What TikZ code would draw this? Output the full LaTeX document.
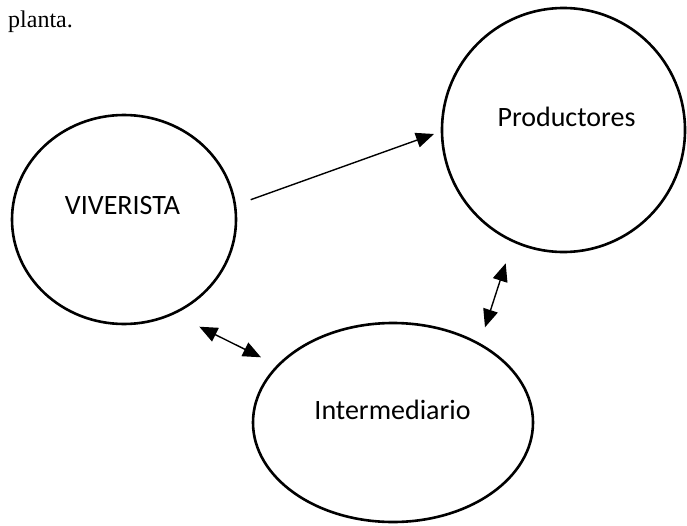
\documentclass[tikz,border=0pt]{standalone}
\usepackage{fontspec}
\setmainfont{Liberation Serif}
\newfontfamily\labelfont{Carlito}
\usetikzlibrary{shapes.geometric,arrows.meta}
\begin{document}
\begin{tikzpicture}[x=1pt,y=-1pt,
  actor/.style={draw,ellipse,line width=2.6pt,inner sep=0pt},
  actorname/.style={font=\labelfont\fontsize{28}{32}\selectfont,inner sep=0pt},
  flow/.style={line width=1.4pt,-{Triangle[length=18pt,width=15pt]}},
  twoway/.style={line width=1.4pt,{Triangle[length=18pt,width=15pt]}-{Triangle[length=18pt,width=15pt]}}]
  \useasboundingbox (0,0) rectangle (687,525);

  % lead-in text
  \node[anchor=base west,inner sep=0pt,font=\fontsize{24}{28}\selectfont] (lead) at (8,27) {planta.};

  % the three actors
  \node[actor,minimum width=224pt,minimum height=209pt] (viv) at (124,219.5) {};
  \node[actor,minimum width=243pt,minimum height=244pt] (prod) at (563.5,130) {};
  \node[actor,minimum width=280pt,minimum height=199pt] (inter) at (393,422.5) {};

  \node[actorname] (vivname) at (122.5,206) {VIVERISTA};
  \node[actorname] (prodname) at (566.5,117) {Productores};
  \node[actorname] (intername) at (392.5,410) {Intermediario};

  % arrow end points in the gaps between the ellipses
  \coordinate (v2p) at (250.7,199.7);
  \coordinate (p2v) at (434,134);
  \coordinate (v2i) at (199.3,326.7);
  \coordinate (i2v) at (261,357.3);
  \coordinate (p2i) at (505.7,263.3);
  \coordinate (i2p) at (485,327.3);

  \draw[flow] (v2p) -- (p2v);
  \draw[twoway] (v2i) -- (i2v);
  \draw[twoway] (p2i) -- (i2p);
\end{tikzpicture}
\end{document}
